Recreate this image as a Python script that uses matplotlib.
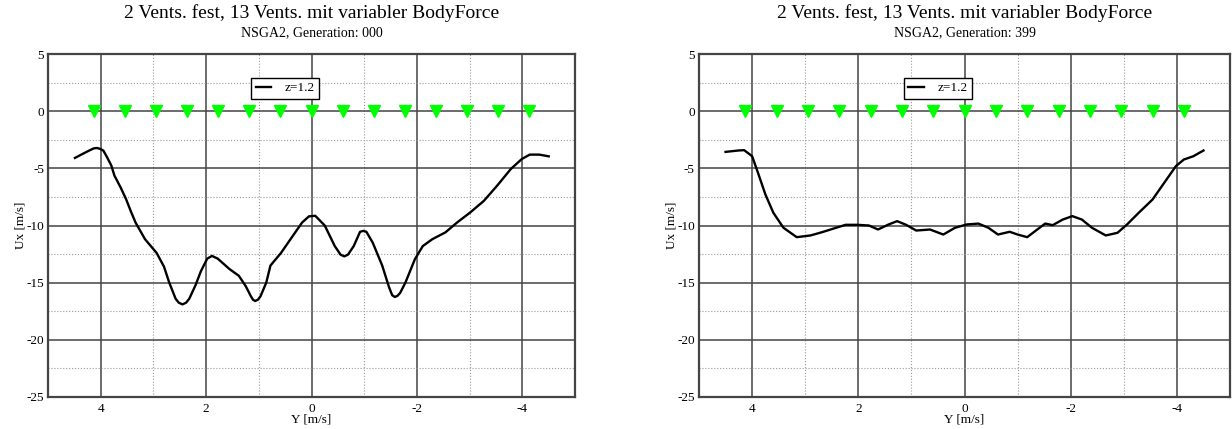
import numpy as np
import matplotlib
matplotlib.use("Agg")
import matplotlib.pyplot as plt
from matplotlib.ticker import MultipleLocator

plt.rcParams['font.family'] = ['Liberation Serif', 'DejaVu Serif']
plt.rcParams['axes.unicode_minus'] = False

# data
title = "2 Vents. fest, 13 Vents. mit variabler BodyForce"
subtitles = ["NSGA2, Generation: 000", "NSGA2, Generation: 399"]
legend_label = "z=1.2"

# vent positions (green markers at Ux = 0)
vent_y = [4.13, 3.54, 2.95, 2.36, 1.77, 1.18, 0.59, 0.0,
          -0.59, -1.18, -1.77, -2.36, -2.95, -3.54, -4.13]

# generation 000
gen0_y = [4.49, 4.35, 4.20, 4.13, 4.07, 4.01, 3.95, 3.88, 3.80, 3.74, 3.62, 3.52,
          3.43, 3.34, 3.16, 2.94, 2.80, 2.70, 2.58, 2.52, 2.45, 2.38, 2.32, 2.20,
          2.10, 1.98, 1.89, 1.78, 1.56, 1.38, 1.25, 1.15, 1.11, 1.07, 1.02, 0.97,
          0.86, 0.78, 0.58, 0.40, 0.18, 0.05, -0.07, -0.25, -0.44, -0.55, -0.62,
          -0.69, -0.80, -0.92, -0.98, -1.04, -1.16, -1.34, -1.47, -1.53, -1.58,
          -1.63, -1.68, -1.78, -1.96, -2.11, -2.29, -2.54, -2.76, -3.01, -3.27,
          -3.52, -3.78, -3.99, -4.14, -4.32, -4.50]
gen0_ux = [-4.09, -3.75, -3.40, -3.25, -3.22, -3.30, -3.45, -4.03, -4.75, -5.64, -6.7, -7.69,
           -8.75, -9.74, -11.2, -12.4, -13.6, -15.0, -16.4, -16.75, -16.9, -16.75, -16.4, -15.2,
           -14.0, -12.9, -12.66, -12.9, -13.8, -14.4, -15.3, -16.2, -16.5, -16.6, -16.5, -16.2,
           -15.0, -13.5, -12.4, -11.2, -9.74, -9.2, -9.15, -10.0, -11.8, -12.55, -12.7,
           -12.55, -11.8, -10.55, -10.47, -10.55, -11.5, -13.5, -15.4, -16.1, -16.25,
           -16.15, -15.9, -15.0, -12.95, -11.8, -11.2, -10.6, -9.74, -8.86, -7.84,
           -6.52, -5.06, -4.18, -3.8, -3.8, -3.95]

# generation 399
gen399_y = [4.50, 4.26, 4.15, 4.0, 3.89, 3.75, 3.60, 3.41, 3.16, 2.90,
            2.68, 2.42, 2.24, 2.02, 1.80, 1.63, 1.43, 1.27, 1.10, 0.91,
            0.65, 0.40, 0.18, -0.04, -0.26, -0.45, -0.63, -0.85, -1.0, -1.18,
            -1.37, -1.52, -1.66, -1.85, -2.03, -2.21, -2.40, -2.66, -2.88, -3.06,
            -3.28, -3.54, -3.76, -3.98, -4.13, -4.31, -4.50]
gen399_ux = [-3.56, -3.44, -3.41, -3.94, -5.39, -7.29, -8.89, -10.2, -11.02, -10.87,
             -10.58, -10.2, -9.94, -9.94, -10.0, -10.35, -9.91, -9.62, -9.94, -10.44,
             -10.35, -10.79, -10.2, -9.91, -9.83, -10.2, -10.79, -10.55, -10.79, -11.02,
             -10.35, -9.83, -9.97, -9.48, -9.18, -9.48, -10.2, -10.87, -10.64, -9.91,
             -8.89, -7.73, -6.27, -4.81, -4.23, -3.94, -3.44]

curves = [(gen0_y, gen0_ux), (gen399_y, gen399_ux)]

fig = plt.figure(figsize=(12.32, 4.29), dpi=100)
axes = [fig.add_axes([0.039, 0.0746, 0.4278, 0.7995]),
        fig.add_axes([0.5674, 0.0746, 0.4310, 0.7995])]

for ax, (yy, ux), sub in zip(axes, curves, subtitles):
    ax.set_xlim(5, -5)
    ax.set_ylim(-25, 5)
    ax.xaxis.set_major_locator(MultipleLocator(2))
    ax.xaxis.set_minor_locator(MultipleLocator(1))
    ax.yaxis.set_major_locator(MultipleLocator(5))
    ax.yaxis.set_minor_locator(MultipleLocator(2.5))
    ax.grid(which='major', color='#444444', linewidth=1.1, linestyle='-')
    ax.grid(which='minor', color='#9a9a9a', linewidth=0.8, linestyle=':')
    ax.set_axisbelow(True)
    ax.tick_params(which='both', length=0, labelsize=9.5)
    ax.tick_params(axis='x', pad=4)
    ax.tick_params(axis='y', pad=3)
    for s in ax.spines.values():
        s.set_color('#444444')
        s.set_linewidth(1.6)

    ax.plot(yy, ux, color='black', linewidth=1.7, label=legend_label,
            solid_joinstyle='round')
    ax.plot(vent_y, np.zeros(len(vent_y)), linestyle='none', marker='v',
            color='#00ff00', markersize=8, zorder=3)

    ax.set_xlabel("Y [m/s]", fontsize=9.5, labelpad=-1)
    ax.set_ylabel("Ux [m/s]", fontsize=9.5, labelpad=0)

    leg = ax.legend(loc='center', bbox_to_anchor=(0.5, 2.0),
                    bbox_transform=ax.transData, fancybox=False,
                    edgecolor='black', framealpha=1, fontsize=9.5,
                    handlelength=1.2, handletextpad=1.0, borderpad=0.35,
                    borderaxespad=0)
    leg.get_frame().set_linewidth(1.0)

    pos = ax.get_position()
    cx = (pos.x0 + pos.x1) / 2
    fig.text(cx, 0.957, title, ha='center', va='baseline', fontsize=14)
    fig.text(cx, 0.916, sub, ha='center', va='baseline', fontsize=10)

fig.savefig("out.png", dpi=100)
